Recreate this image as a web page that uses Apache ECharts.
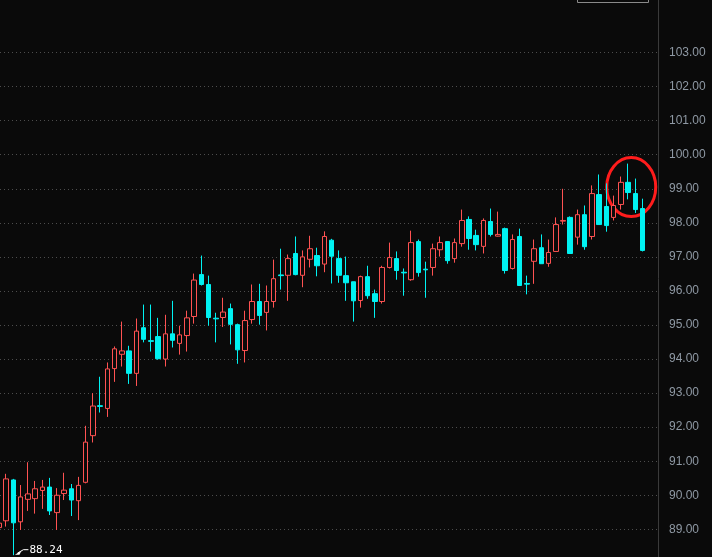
<!DOCTYPE html>
<html>
<head>
<meta charset="utf-8">
<script src="https://cdn.jsdelivr.net/npm/echarts@6/dist/echarts.min.js"></script>
<style>
html,body{margin:0;padding:0;background:#0a0a0a;}
#c{width:712px;height:557px;}
</style>
</head>
<body>
<div id="c"></div>
<script>
// ---- data ----
const openVals  = [89.05,89.25,90.45,89.22,89.88,89.90,90.14,90.24,89.49,90.05,90.19,89.84,90.38,91.75,92.63,92.55,93.72,94.14,94.24,93.58,
                   94.92,94.54,94.66,94.00,94.74,94.46,94.69,95.25,96.48,96.19,95.20,95.22,95.48,95.01,94.25,95.16,95.69,95.37,95.69,96.47,
                   96.46,97.10,96.46,96.93,97.04,96.79,97.49,96.95,96.45,96.27,95.72,96.42,95.92,95.69,96.69,96.95,96.55,96.33,97.45,96.64,
                   96.69,97.21,97.45,96.95,97.39,98.10,97.63,97.31,98.04,97.61,97.83,96.66,97.60,96.22,96.87,97.27,96.81,97.16,98.05,98.16,
                   97.58,98.24,97.60,98.83,98.48,98.16,98.54,99.19,98.86,98.42];
const closeVals = [89.18,90.48,89.19,89.95,90.04,90.19,90.24,89.54,90.00,90.15,89.86,90.29,91.56,92.62,92.61,93.71,94.30,94.24,93.58,94.82,
                   94.58,94.52,94.01,94.74,94.55,94.71,95.21,96.32,96.19,95.22,95.18,95.38,95.02,94.27,95.13,95.69,95.28,95.69,96.36,96.45,
                   96.95,96.48,97.00,97.24,96.74,97.60,97.02,96.46,96.24,95.71,96.42,95.86,95.69,96.69,96.98,96.60,96.53,97.42,96.54,96.62,
                   97.24,97.42,96.89,97.42,98.07,97.54,97.36,98.07,97.66,97.66,96.60,97.51,96.16,96.20,97.24,96.80,97.13,97.95,98.07,97.10,
                   98.24,97.30,98.86,97.95,97.92,98.51,99.19,98.89,98.39,97.19];
const lowVals   = [89.02,89.08,88.24,88.98,89.54,89.46,89.60,89.42,88.98,89.86,89.39,89.27,90.35,91.55,92.43,92.30,93.33,93.78,93.27,93.21,
                   94.49,94.22,93.98,93.78,94.34,94.13,94.22,95.04,96.16,94.98,94.49,94.94,94.43,93.86,93.90,95.04,95.01,94.84,95.51,96.04,
                   95.71,96.46,96.11,96.69,96.43,96.55,96.22,96.24,95.71,95.10,95.51,95.77,95.21,95.63,96.66,96.33,95.86,96.30,96.42,95.80,
                   96.45,97.01,96.80,96.83,97.30,97.21,97.19,97.10,97.60,97.60,96.51,96.63,96.16,95.90,96.21,96.80,96.71,97.16,97.95,97.10,
                   97.36,97.21,97.51,97.95,97.74,98.07,98.39,98.69,98.29,97.16];
const highVals  = [89.20,90.63,90.48,90.30,90.97,90.42,90.45,90.51,90.21,90.66,90.33,90.54,92.04,93.00,93.48,93.90,94.37,95.10,94.39,95.19,
                   95.60,95.60,95.21,95.30,95.71,94.98,95.42,96.51,97.04,96.45,95.36,95.80,95.63,95.04,95.42,96.19,96.21,96.16,96.92,97.24,
                   97.07,97.60,97.19,97.62,97.27,97.75,97.53,97.19,97.01,96.27,96.45,96.74,96.04,96.74,97.42,97.16,96.66,97.77,97.51,96.86,
                   97.39,97.60,97.45,97.54,98.39,98.19,97.80,98.13,98.42,98.33,97.86,97.66,97.83,96.45,97.51,97.66,97.51,98.16,99.00,98.19,
                   98.39,98.51,99.10,99.42,99.16,98.80,99.36,99.74,99.30,98.71];
const yMin = 89, yMax = 103, yStep = 1;
const lowLabel = '88.24';
const boxText = '06-22 99.36';

// ---- chart ----
const chart = echarts.init(document.getElementById('c'), null, {renderer: 'canvas'});
const candles = openVals.map((o, i) => [i, o, closeVals[i], lowVals[i], highVals[i]]);

const RED = '#ff5252', CYAN = '#00f2f2', BG = '#0a0a0a';

chart.setOption({
  backgroundColor: BG,
  animation: false,
  grid: {left: 0, right: 54, top: 52.6, bottom: 27.7, containLabel: false},
  xAxis: {
    type: 'value', min: 0.1424, max: 91.14,
    axisLine: {show: false}, axisTick: {show: false}, axisLabel: {show: false}, splitLine: {show: false}
  },
  yAxis: {
    type: 'value', position: 'right', min: yMin, max: yMax, interval: yStep, scale: true,
    axisLine: {show: false}, axisTick: {show: false},
    axisLabel: {color: '#8f99a4', fontSize: 12, fontFamily: 'Liberation Sans, Arial, sans-serif', margin: 11,
                formatter: v => v.toFixed(2)},
    splitLine: {show: true, lineStyle: {color: '#4d4d4d', width: 1, type: [1, 3]}}
  },
  series: [{
    type: 'candlestick',
    clip: false,
    barWidth: 5,
    encode: {x: 0, y: [1, 2, 3, 4]},
    itemStyle: {color: BG, color0: CYAN, borderColor: RED, borderColor0: CYAN, borderWidth: 1},
    data: candles
  }]
});

// annotations positioned through the chart's own scales
const lowIdx = lowVals.indexOf(Math.min(...lowVals));
const pLow = chart.convertToPixel({gridIndex: 0}, [lowIdx, lowVals[lowIdx]]);
const pEll = chart.convertToPixel({gridIndex: 0}, [87.44, 99.05]);
const axisX = chart.convertToPixel({gridIndex: 0}, [91.14, yMin])[0];

chart.setOption({
  graphic: [
    {type: 'line', silent: true, shape: {x1: axisX + 0.5, y1: 0, x2: axisX + 0.5, y2: 557},
     style: {stroke: '#3a3a3a', lineWidth: 1}},
    {type: 'ellipse', silent: true, shape: {cx: pEll[0], cy: pEll[1], rx: 24.5, ry: 29.5},
     style: {fill: 'none', stroke: '#ff1c1c', lineWidth: 3}},
    {type: 'polygon', silent: true,
     shape: {points: [[pLow[0] + 1.5, pLow[1] - 0.5], [pLow[0] + 8, pLow[1] - 4.5], [pLow[0] + 6, pLow[1] - 0.5]]},
     style: {fill: '#ffffff'}},
    {type: 'polyline', silent: true,
     shape: {points: [[pLow[0] + 4, pLow[1] - 2], [pLow[0] + 10, pLow[1] - 5.5], [pLow[0] + 15, pLow[1] - 5.5]]},
     style: {stroke: '#ffffff', lineWidth: 1, fill: 'none'}},
    {type: 'text', silent: true, x: pLow[0] + 16, y: pLow[1] - 5.5,
     style: {text: lowLabel, fill: '#ffffff', font: '11px "DejaVu Sans Mono", monospace', verticalAlign: 'middle', align: 'left'}},
    {type: 'rect', silent: true, shape: {x: 577.5, y: -20, width: 71, height: 22.5},
     style: {fill: BG, stroke: '#8a8a8a', lineWidth: 1}},
    {type: 'text', silent: true, x: 613, y: -6,
     style: {text: boxText, fill: '#ffffff', font: '12px "Liberation Sans", Arial', align: 'center', verticalAlign: 'middle'}}
  ]
});
</script>
</body>
</html>
